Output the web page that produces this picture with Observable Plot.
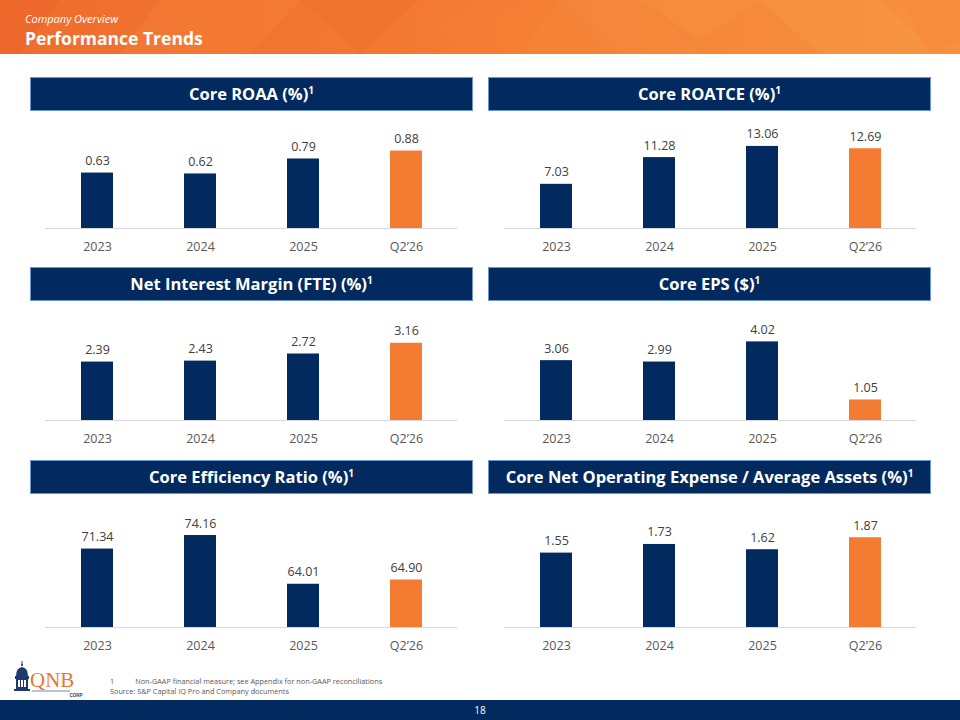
<!DOCTYPE html>
<html>
<head>
<meta charset="utf-8">
<script src="https://cdn.jsdelivr.net/npm/d3@7"></script>
<script src="https://cdn.jsdelivr.net/npm/@observablehq/plot@0.6"></script>
<style>
  html, body { margin: 0; padding: 0; }
  body { width: 960px; height: 720px; position: relative; overflow: hidden; background: #fff; font-family: "Open Sans", "Noto Sans", sans-serif; }
  .header { position: absolute; left: 0; top: 0; width: 960px; height: 54px; overflow: hidden;
    background: linear-gradient(90deg, #ef6c2d 0%, #f37a33 45%, #f6883a 75%, #f7913f 100%); }
  .header svg { position: absolute; left: 0; top: 0; }
  .kicker { position: absolute; left: 25px; top: 12px; height: 14px; line-height: 14px; font-size: 11px; font-style: italic; color: #fff; }
  .title { position: absolute; left: 25px; top: 27px; height: 22px; line-height: 22px; font-size: 17.5px; font-weight: 700; color: #fff; }
  .bar-title { position: absolute; height: 32px; line-height: 32px; background: #022a5e; border: 1px solid #6b97d0;
    color: #fff; font-weight: 700; font-size: 16.5px; text-align: center; box-sizing: content-box; }
  .bar-title sup { font-size: 10px; vertical-align: 0; position: relative; top: -6px; }
  .chart { position: absolute; }
  .foot { position: absolute; left: 110px; font-size: 7.3px; color: #595959; line-height: 10px; }
  .bottom { position: absolute; left: 0; top: 700px; width: 960px; height: 20px; background: #022a5e; }
  .page { position: absolute; left: 0; top: 700px; width: 960px; height: 20px; line-height: 20px; text-align: center; font-size: 10px; color: #fff; }
  .logo { position: absolute; left: 12px; top: 660px; }
</style>
</head>
<body>
<div class="header">
  <svg width="960" height="54">
    <polygon points="0,0 60,0 20,54 0,54" fill="#ec6529" opacity="0.6"/>
    <polygon points="160,0 300,0 250,54 120,54" fill="#f5843a" opacity="0.35"/>
    <polygon points="300,0 420,0 360,54" fill="#ee6e2e" opacity="0.45"/>
    <polygon points="560,0 640,0 700,54 520,54" fill="#f48b40" opacity="0.4"/>
    <polygon points="640,0 760,0 700,40" fill="#f6923f" opacity="0.5"/>
    <polygon points="760,0 880,0 940,54 820,54" fill="#f79a4a" opacity="0.35"/>
    <polygon points="900,0 960,0 960,40 930,54" fill="#f58a3c" opacity="0.6"/>
    <polygon points="430,20 560,0 620,54 470,54" fill="#f38236" opacity="0.35"/>
  </svg>
  <div class="kicker">Company Overview</div>
  <div class="title">Performance Trends</div>
</div>

<div id="panels"></div>

<div class="logo">
  <svg width="80" height="38">
    <line x1="10" y1="1" x2="10" y2="6" stroke="#1f3b6e" stroke-width="1"/>
    <circle cx="10" cy="5" r="1" fill="#1f3b6e"/>
    <path d="M4,16 Q4,8 10,7 Q16,8 16,16 Z" fill="#1f3b6e"/>
    <rect x="3" y="16" width="14" height="3" fill="#1f3b6e"/>
    <rect x="4" y="19" width="12" height="10" fill="#1f3b6e"/>
    <rect x="6" y="20" width="2" height="7" fill="#fff"/>
    <rect x="9" y="20" width="2" height="7" fill="#fff"/>
    <rect x="12" y="20" width="2" height="7" fill="#fff"/>
    <rect x="2" y="29" width="16" height="2" fill="#1f3b6e"/>
    <text x="18" y="27" font-family="Liberation Serif, serif" font-size="21" fill="#e9782f">QNB</text>
    <line x1="20" y1="31" x2="58" y2="31" stroke="#1f3b6e" stroke-width="0.6"/>
    <text x="64" y="37" font-family="Liberation Sans, sans-serif" font-size="4.5" font-weight="700" fill="#1f3b6e" text-anchor="middle">CORP</text>
  </svg>
</div>
<div class="foot" style="top:676px;">1<span style="display:inline-block;width:21px"></span>Non-GAAP financial measure; see Appendix for non-GAAP reconciliations</div>
<div class="foot" style="top:686px;">Source: S&amp;P Capital IQ Pro and Company documents</div>
<div class="bottom"></div>
<div class="page">18</div>

<script>
// ---- data ----
const categories = ["2023", "2024", "2025", "Q2\u201926"];
const coreROAA = [0.63, 0.62, 0.79, 0.88];
const coreROATCE = [7.03, 11.28, 13.06, 12.69];
const netInterestMargin = [2.39, 2.43, 2.72, 3.16];
const coreEPS = [3.06, 2.99, 4.02, 1.05];
const coreEfficiency = [71.34, 74.16, 64.01, 64.90];
const coreNetOpExpense = [1.55, 1.73, 1.62, 1.87];

const panelTitles = [
  "Core ROAA (%)", "Core ROATCE (%)",
  "Net Interest Margin (FTE) (%)", "Core EPS ($)",
  "Core Efficiency Ratio (%)", "Core Net Operating Expense / Average Assets (%)"
];
const panelSeries = [coreROAA, coreROATCE, netInterestMargin, coreEPS, coreEfficiency, coreNetOpExpense];
const panelDomains = [[0, 1.0], [0, 14], [0, 3.6], [0, 4.5], [55, 75], [0, 2.0]];

// ---- layout ----
const NAVY = "#022a5e", ORANGE = "#f47b32";
const colLeft = [30, 488];
const titleTop = [77, 267, 460];
const rows = [
  {top: 113, height: 147, marginTop: 27, marginBottom: 32},
  {top: 303, height: 147, marginTop: 29, marginBottom: 30},
  {top: 496, height: 164, marginTop: 35, marginBottom: 33}
];
const W = 443;

const host = document.getElementById("panels");
panelTitles.forEach((t, i) => {
  const col = i % 2, row = Math.floor(i / 2);
  const tb = document.createElement("div");
  tb.className = "bar-title";
  tb.style.left = colLeft[col] + "px";
  tb.style.top = titleTop[row] + "px";
  tb.style.width = (W - 2) + "px";
  tb.innerHTML = t + "<sup>1</sup>";
  document.body.appendChild(tb);

  const data = categories.map((c, j) => ({cat: c, value: panelSeries[i][j], latest: j === categories.length - 1}));
  const dom = panelDomains[i];
  const r = rows[row];
  const chart = Plot.plot({
    width: W,
    height: r.height,
    marginLeft: col === 0 ? 15 : 16,
    marginRight: col === 0 ? 16 : 15,
    marginTop: r.marginTop,
    marginBottom: r.marginBottom,
    style: {fontFamily: "'Open Sans', sans-serif", overflow: "visible", background: "transparent"},
    x: {domain: categories, paddingInner: 0.69, paddingOuter: 0.345},
    y: {domain: dom, axis: null},
    marks: [
      Plot.barY(data, {x: "cat", y1: dom[0], y2: "value", fill: d => d.latest ? ORANGE : NAVY}),
      Plot.ruleY([dom[0]], {stroke: "#d9d9d9", strokeWidth: 1.2}),
      Plot.text(data, {x: "cat", y: "value", text: d => d.value.toFixed(2), dy: -8, lineAnchor: "bottom",
        fontSize: 12.5, fill: "#404040"}),
      Plot.axisX({tickSize: 0, tickPadding: 14, fontSize: 12.5, fill: "#595959", label: null})
    ]
  });
  const wrap = document.createElement("div");
  wrap.className = "chart";
  wrap.style.left = colLeft[col] + "px";
  wrap.style.top = r.top + "px";
  wrap.appendChild(chart);
  host.appendChild(wrap);
});
</script>
</body>
</html>
